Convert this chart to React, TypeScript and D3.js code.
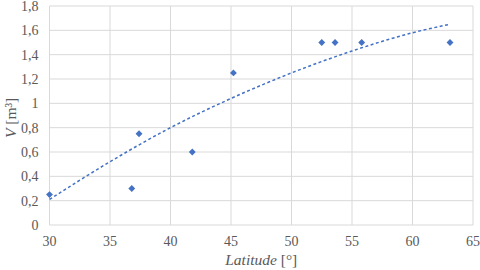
import * as d3 from "d3";
import React from "react";

// measured points (latitude, volume)
const latitudes = [30, 36.8, 37.4, 41.8, 45.2, 52.5, 53.6, 55.8, 63.1];
const volumes = [0.25, 0.3, 0.75, 0.6, 1.25, 1.5, 1.5, 1.5, 1.5];

// dashed trendline
const trendX = [30, 35, 40, 45, 50, 55, 60, 63.1];
const trendY = [0.21, 0.52, 0.8, 1.04, 1.25, 1.43, 1.58, 1.65];

const xTicks = [30, 35, 40, 45, 50, 55, 60, 65];
const yTicks = [0, 0.2, 0.4, 0.6, 0.8, 1, 1.2, 1.4, 1.6, 1.8];

const width = 480;
const height = 270;
const margin = { top: 6, right: 7, bottom: 45, left: 49.5 };

const locale = d3.formatLocale({ decimal: ",", thousands: ".", grouping: [3], currency: ["", "€"] });
const fmt = locale.format("~g");

const blue = "#4472C4";
const grid = "#d9d9d9";
const labelColor = "#595959";
const serif = "Liberation Serif";

export default function App() {
  const x = d3.scaleLinear().domain([30, 65]).range([margin.left, width - margin.right]);
  const y = d3.scaleLinear().domain([0, 1.8]).range([height - margin.bottom, margin.top]);

  const trend = d3.line<number>()
    .x((d, i) => x(trendX[i]))
    .y((d) => y(d))
    .curve(d3.curveMonotoneX);

  const diamond = d3.symbol().type(d3.symbolDiamond2).size(30)();

  return (
    <svg width={width} height={height} style={{ position: "absolute", left: 0, top: 0 }}>
      <rect width={width} height={height} fill="#fff" />
      <g>
        {xTicks.map((t) => (
          <line key={"gx" + t} x1={x(t)} x2={x(t)} y1={y(0)} y2={y(1.8)} stroke={grid} strokeWidth={1} />
        ))}
        {yTicks.map((t) => (
          <line key={"gy" + t} x1={x(30)} x2={x(65)} y1={y(t)} y2={y(t)} stroke={grid} strokeWidth={1} />
        ))}
      </g>
      <g fontFamily={serif} fontSize={14} fill={labelColor}>
        {yTicks.map((t) => (
          <text key={"ty" + t} x={x(30) - 11} y={y(t)} dy="0.35em" textAnchor="end">{fmt(t)}</text>
        ))}
        {xTicks.map((t) => (
          <text key={"tx" + t} x={x(t)} y={y(0) + 21} textAnchor="middle">{t}</text>
        ))}
        <text x={(x(30) + x(65)) / 2} y={height - 5} textAnchor="middle" fontSize={15.5}>
          <tspan fontStyle="italic">Latitude</tspan> [°]
        </text>
        <text transform={`translate(16,${y(0.88)}) rotate(-90)`} textAnchor="middle" fontSize={15.5}>
          <tspan fontStyle="italic">V</tspan> [m³]
        </text>
      </g>
      <path d={trend(trendY) || ""} fill="none" stroke={blue} strokeWidth={1.5} strokeDasharray="3,2.5" />
      <g fill={blue}>
        {latitudes.map((lat, i) => (
          <path key={i} d={diamond || ""} transform={`translate(${x(lat)},${y(volumes[i])})`} />
        ))}
      </g>
    </svg>
  );
}
